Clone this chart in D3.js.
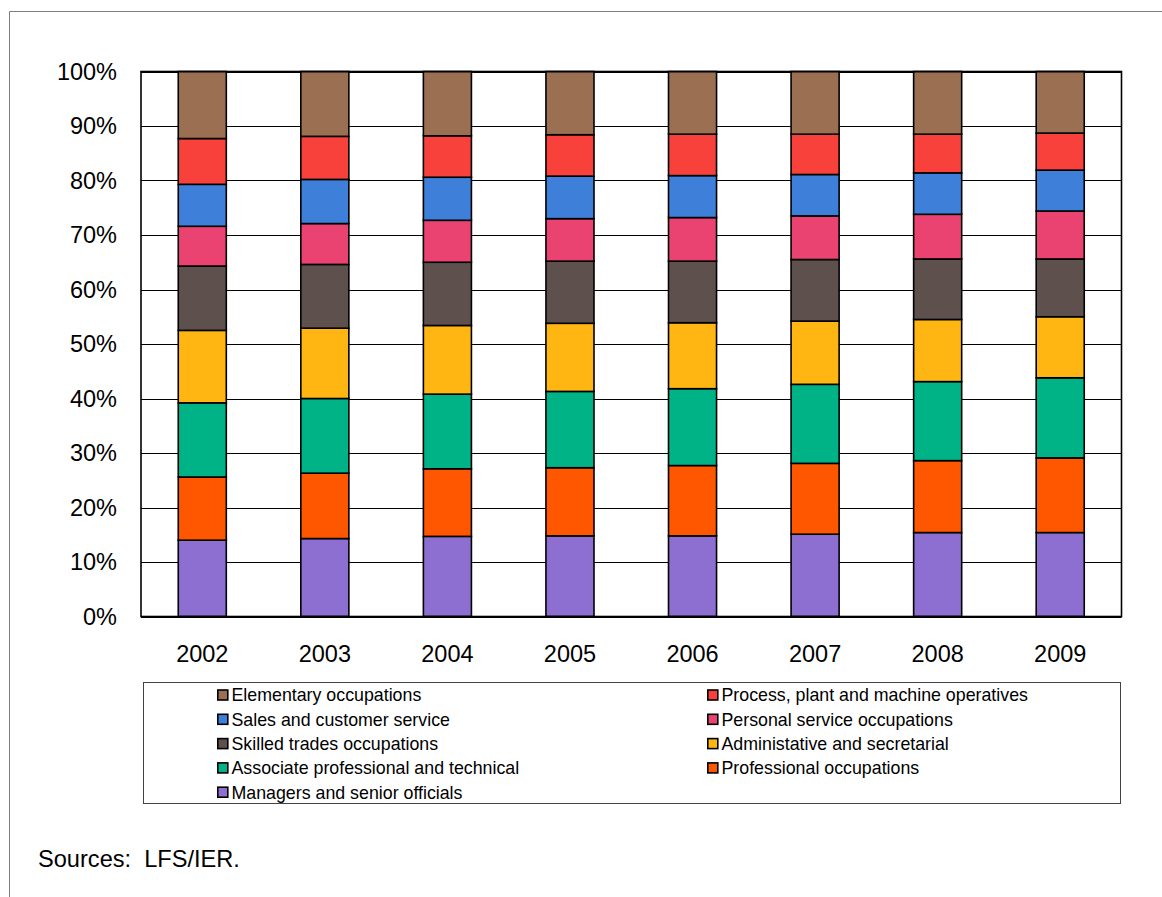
<!DOCTYPE html>
<html>
<head>
<meta charset="utf-8">
<script src="https://cdn.jsdelivr.net/npm/d3@7"></script>
<style>
  html, body { margin: 0; padding: 0; background: #fff; }
  svg { display: block; font-family: Arial, "Liberation Sans", sans-serif; }
</style>
</head>
<body>
<svg id="chart" width="1162" height="897"></svg>
<script>
// Employment by occupation, share of total (%)
const years = ["2002", "2003", "2004", "2005", "2006", "2007", "2008", "2009"];

const managers     = [14.0, 14.3, 14.7, 14.8, 14.8, 15.1, 15.4, 15.4];
const professional = [11.6, 12.0, 12.4, 12.5, 12.9, 13.0, 13.2, 13.7];
const associate    = [13.6, 13.7, 13.7, 14.0, 14.1, 14.5, 14.5, 14.7];
const admin        = [13.3, 12.9, 12.6, 12.5, 12.1, 11.6, 11.4, 11.2];
const skilled      = [11.8, 11.7, 11.6, 11.4, 11.3, 11.3, 11.1, 10.6];
const personal     = [ 7.3,  7.5,  7.7,  7.8,  8.0,  8.0,  8.2,  8.8];
const sales        = [ 7.7,  8.1,  7.9,  7.8,  7.7,  7.6,  7.6,  7.5];
const process      = [ 8.4,  7.9,  7.6,  7.6,  7.6,  7.4,  7.1,  6.8];
const elementary   = [12.3, 11.9, 11.8, 11.6, 11.5, 11.5, 11.5, 11.3];

const yTicks = [0, 10, 20, 30, 40, 50, 60, 70, 80, 90, 100];

// Series from bottom of the stack to the top
const series = [
  { key: "Managers and senior officials",            values: managers,     color: "#8C6FD0" },
  { key: "Professional occupations",                 values: professional, color: "#FF5600" },
  { key: "Associate professional and technical",     values: associate,    color: "#00B387" },
  { key: "Administative and secretarial",            values: admin,        color: "#FFB612" },
  { key: "Skilled trades occupations",               values: skilled,      color: "#5E514D" },
  { key: "Personal service occupations",             values: personal,     color: "#EA4371" },
  { key: "Sales and customer service",               values: sales,        color: "#3D7FD9" },
  { key: "Process, plant and machine operatives",    values: process,      color: "#F7413A" },
  { key: "Elementary occupations",                   values: elementary,   color: "#9B7052" }
];

// Legend order (row-major, two columns)
const legendOrder = [
  "Elementary occupations", "Process, plant and machine operatives",
  "Sales and customer service", "Personal service occupations",
  "Skilled trades occupations", "Administative and secretarial",
  "Associate professional and technical", "Professional occupations",
  "Managers and senior officials"
];

const rows = years.map((y, i) => {
  const r = { year: y };
  series.forEach(s => { r[s.key] = s.values[i]; });
  return r;
});

const stacked = d3.stack().keys(series.map(s => s.key))(rows);
const colorOf = new Map(series.map(s => [s.key, s.color]));

const svg = d3.select("#chart");

// Outer frame (open at the right and bottom)
svg.append("path")
  .attr("d", "M9.5,897 V11.5 H1162")
  .attr("fill", "none")
  .attr("stroke", "#7f7f7f")
  .attr("stroke-width", 1);

const plot = { left: 141, right: 1121.5, top: 71.5, bottom: 616.5 };

const x = d3.scaleBand()
  .domain(years)
  .range([plot.left, plot.right])
  .paddingInner(0.608)
  .paddingOuter(0.304);

const y = d3.scaleLinear()
  .domain([0, 100])
  .range([plot.bottom, plot.top]);

// Gridlines
svg.append("g")
  .selectAll("line")
  .data(yTicks)
  .join("line")
  .attr("x1", plot.left)
  .attr("x2", plot.right)
  .attr("y1", d => Math.round(y(d)) + 0.5)
  .attr("y2", d => Math.round(y(d)) + 0.5)
  .attr("stroke", "#000")
  .attr("stroke-width", 1);

// Stacked bars
svg.append("g")
  .selectAll("g")
  .data(stacked)
  .join("g")
  .attr("fill", d => colorOf.get(d.key))
  .selectAll("rect")
  .data(d => d)
  .join("rect")
  .attr("x", d => x(d.data.year))
  .attr("width", x.bandwidth())
  .attr("y", d => y(d[1]))
  .attr("height", d => y(d[0]) - y(d[1]))
  .attr("stroke", "#000")
  .attr("stroke-width", 1.6);

// Plot border
svg.append("rect")
  .attr("x", plot.left)
  .attr("y", plot.top)
  .attr("width", plot.right - plot.left)
  .attr("height", plot.bottom - plot.top)
  .attr("fill", "none")
  .attr("stroke", "#000")
  .attr("stroke-width", 1.6);

// Y axis labels
const yAxis = d3.axisLeft(y)
  .tickValues(yTicks)
  .tickFormat(d => d + "%")
  .tickSize(0)
  .tickPadding(24);

svg.append("g")
  .attr("transform", `translate(${plot.left},0)`)
  .call(yAxis)
  .call(g => g.select(".domain").remove())
  .call(g => g.selectAll("text")
    .attr("font-size", 23.5)
    .attr("font-family", "Arial, 'Liberation Sans', sans-serif")
    .attr("fill", "#000"));

// X axis labels
const xAxis = d3.axisBottom(x)
  .tickSize(0)
  .tickPadding(29);

svg.append("g")
  .attr("transform", `translate(0,${plot.bottom})`)
  .call(xAxis)
  .call(g => g.select(".domain").remove())
  .call(g => g.selectAll("text")
    .attr("font-size", 23.5)
    .attr("font-family", "Arial, 'Liberation Sans', sans-serif")
    .attr("fill", "#000"));

// Legend
const legend = { x: 143.5, y: 682.5, w: 977, h: 121 };
svg.append("rect")
  .attr("x", legend.x)
  .attr("y", legend.y)
  .attr("width", legend.w)
  .attr("height", legend.h)
  .attr("fill", "#fff")
  .attr("stroke", "#444")
  .attr("stroke-width", 1);

const colX = [217, 707];
const rowY0 = 695, rowStep = 24.3;

const items = svg.append("g")
  .selectAll("g")
  .data(legendOrder)
  .join("g")
  .attr("transform", (d, i) => `translate(${colX[i % 2]},${rowY0 + Math.floor(i / 2) * rowStep})`);

items.append("rect")
  .attr("x", 0.8)
  .attr("y", -5)
  .attr("width", 10)
  .attr("height", 10)
  .attr("fill", d => colorOf.get(d))
  .attr("stroke", "#000")
  .attr("stroke-width", 1.6);

items.append("text")
  .attr("x", 14.5)
  .attr("y", 0)
  .attr("dy", "0.36em")
  .attr("font-size", 17.8)
  .attr("fill", "#000")
  .text(d => d);

// Source note
svg.append("text")
  .attr("x", 38)
  .attr("y", 867)
  .attr("font-size", 23.6)
  .attr("fill", "#000")
  .style("white-space", "pre")
  .text("Sources:  LFS/IER.");
</script>
</body>
</html>
